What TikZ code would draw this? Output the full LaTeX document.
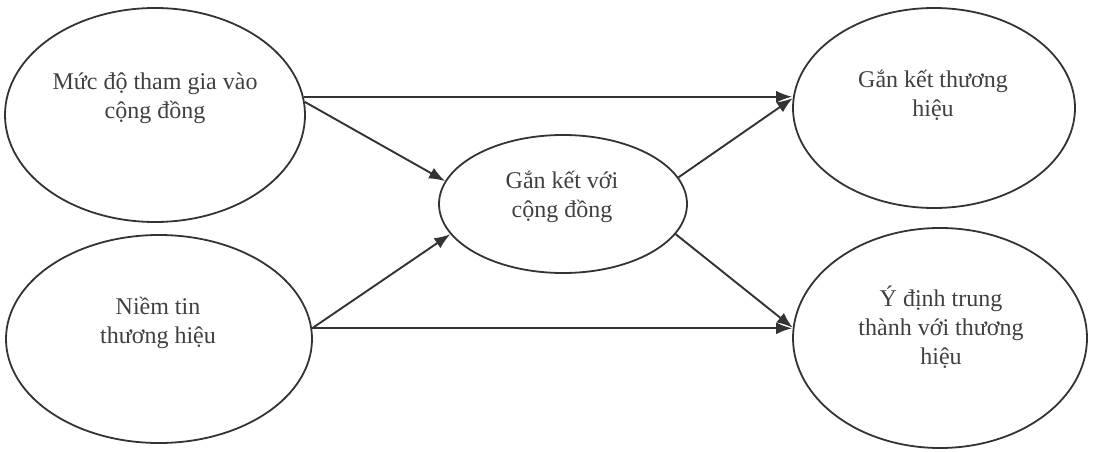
\documentclass[tikz,border=0pt]{standalone}
\usepackage{fontspec}
\setmainfont{Liberation Serif}
\usetikzlibrary{shapes.geometric,arrows.meta}
\begin{document}
\begin{tikzpicture}[x=1pt,y=-1pt,
  oval/.style={ellipse,draw=black!80,line width=1.8pt,inner sep=0pt},
  lbl/.style={align=center,text=black!75,font=\fontsize{24}{29}\selectfont},
  conn/.style={draw=black!80,line width=1.9pt,-{Latex[length=16pt,width=12pt]}}]
\useasboundingbox (0,0) rectangle (1093,452);
\node[oval,minimum width=300pt,minimum height=214pt] (tl) at (155,115) {};
\node[oval,minimum width=306pt,minimum height=208pt] (bl) at (159,339) {};
\node[oval,minimum width=248pt,minimum height=138pt] (mid) at (563,204) {};
\node[oval,minimum width=282pt,minimum height=200pt] (tr) at (934,108) {};
\node[oval,minimum width=294pt,minimum height=220pt] (br) at (940,338) {};
\node[lbl] (tlt) at (155,98) {Mức độ tham gia vào\\cộng đồng};
\node[lbl] (blt) at (158,323) {Niềm tin\\thương hiệu};
\node[lbl] (midt) at (562,197) {Gắn kết với\\cộng đồng};
\node[lbl] (trt) at (933,95) {Gắn kết thương\\hiệu};
\node[lbl] (brt) at (941,327) {Ý định trung\\thành với thương\\hiệu};
\draw[conn] (tl.7) -- (tl.7 -| tr.west);
\draw[conn] (tl.5) -- (mid.169);
\draw[conn] (bl.4) -- (mid.195);
\draw[conn] (bl.4) -- (bl.4 -| br.west);
\draw[conn] (mid.13) -- (tr.176);
\draw[conn] (mid.345) -- (br.176);
\end{tikzpicture}
\end{document}
